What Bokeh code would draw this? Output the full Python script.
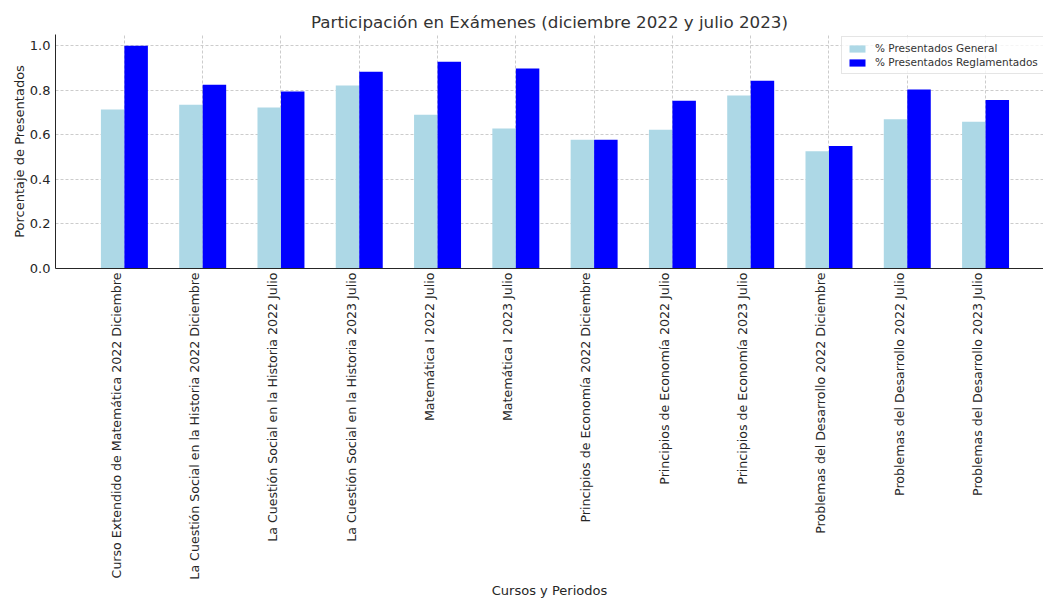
import math
from bokeh.plotting import figure
from bokeh.models import ColumnDataSource, Range1d, FixedTicker, NumeralTickFormatter, Legend, LegendItem
from bokeh.embed import file_html
from bokeh.resources import INLINE

cursos = [
    "Curso Extendido de Matemática 2022 Diciembre",
    "La Cuestión Social en la Historia 2022 Diciembre",
    "La Cuestión Social en la Historia 2022 Julio",
    "La Cuestión Social en la Historia 2023 Julio",
    "Matemática I 2022 Julio",
    "Matemática I 2023 Julio",
    "Principios de Economía 2022 Diciembre",
    "Principios de Economía 2022 Julio",
    "Principios de Economía 2023 Julio",
    "Problemas del Desarrollo 2022 Diciembre",
    "Problemas del Desarrollo 2022 Julio",
    "Problemas del Desarrollo 2023 Julio",
]
general = [0.713, 0.735, 0.722, 0.821, 0.690, 0.628, 0.578, 0.623, 0.776, 0.526, 0.670, 0.659]
reglamentados = [1.0, 0.825, 0.794, 0.883, 0.928, 0.897, 0.578, 0.753, 0.842, 0.550, 0.803, 0.756]

FONT = "DejaVu Sans"
TXT = "#262626"

idx = list(range(len(cursos)))
src = ColumnDataSource(dict(
    xg=[i - 0.15 for i in idx],
    xr=[i + 0.15 for i in idx],
    g=general,
    r=reglamentados,
))

p = figure(
    output_backend="svg", toolbar_location=None,
    frame_width=988, frame_height=234,
    x_range=Range1d(-0.88, 11.74), y_range=Range1d(0, 1.05),
    min_border_left=0, min_border_top=0, min_border_right=0, min_border_bottom=0,
    title="Participación en Exámenes (diciembre 2022 y julio 2023)",
)
p.margin = (6, 0, 0, 8)
p.title.align = "center"
p.title.offset = 7
p.title.standoff = 6
p.title.text_font = FONT
p.title.text_font_size = "16.7px"
p.title.text_font_style = "normal"
p.title.text_color = "#333333"

rg = p.vbar(x="xg", top="g", width=0.3, source=src, fill_color="#ADD8E6", line_color=None)
rr = p.vbar(x="xr", top="r", width=0.3, source=src, fill_color="#0000FF", line_color=None)

legend = Legend(items=[
    LegendItem(label="% Presentados General", renderers=[rg]),
    LegendItem(label="% Presentados Reglamentados", renderers=[rr]),
], location=(786, 194))
legend.label_text_font = FONT
legend.label_text_font_size = "10.5px"
legend.label_text_color = "#333333"
legend.glyph_width = 20
legend.glyph_height = 9
legend.spacing = 2
legend.padding = 5
legend.margin = 0
legend.label_standoff = 8
legend.label_height = 12
legend.border_line_color = "#cccccc"
legend.background_fill_alpha = 0.8
p.add_layout(legend)

# labels are right-aligned to the tick (rotated), so their centre sits slightly left
label_pos = [i - 0.105 for i in idx]
p.xaxis.ticker = FixedTicker(ticks=label_pos)
p.xaxis.major_label_overrides = {pos: c for pos, c in zip(label_pos, cursos)}
p.xaxis.major_label_orientation = math.pi / 2
p.xaxis.axis_label = "Cursos y Periodos"
p.yaxis.axis_label = "Porcentaje de Presentados"
p.yaxis.ticker = FixedTicker(ticks=[0, 0.2, 0.4, 0.6, 0.8, 1.0])
p.yaxis.formatter = NumeralTickFormatter(format="0.0")
p.xgrid.ticker = FixedTicker(ticks=idx)

for ax in (p.xaxis, p.yaxis):
    ax.axis_label_text_font = FONT
    ax.axis_label_text_font_size = "13px"
    ax.axis_label_text_font_style = "normal"
    ax.axis_label_text_color = TXT
    ax.major_label_text_font = FONT
    ax.major_label_text_font_size = "13px"
    ax.major_label_text_color = TXT
    ax.axis_line_color = "#262626"
    ax.major_tick_line_color = None
    ax.major_tick_out = 3
    ax.major_tick_in = 0
    ax.minor_tick_line_color = None

p.xaxis.major_label_text_font_size = "12.6px"
p.xaxis.major_label_standoff = 1
p.xaxis.axis_label_standoff = 0
p.yaxis.major_label_standoff = 2
p.yaxis.axis_label_standoff = 0

p.xgrid.grid_line_color = "#cccccc"
p.ygrid.grid_line_color = "#cccccc"
p.xgrid.grid_line_dash = "3 2"
p.ygrid.grid_line_dash = "3 2"
p.outline_line_color = None
p.background_fill_color = "white"

open("out.html", "w").write(file_html(p, INLINE))
